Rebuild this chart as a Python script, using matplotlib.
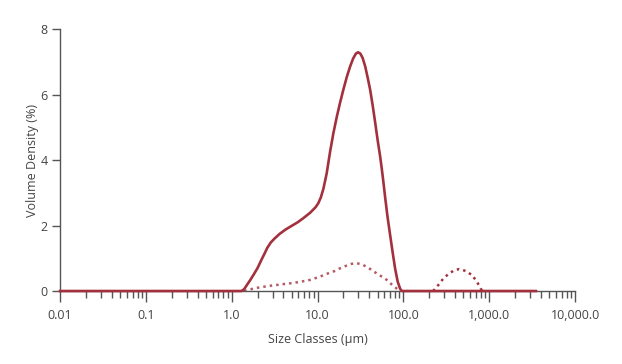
import matplotlib
matplotlib.use("Agg")
import matplotlib.pyplot as plt
from matplotlib.ticker import LogLocator, NullFormatter, FixedLocator
import numpy as np

plt.rcParams['font.family'] = ['Open Sans', 'DejaVu Sans']

# Solid curve (volume density %)
sizes_solid = [0.01, 1.3, 1.4, 1.5, 1.65, 1.8, 2.0, 2.2, 2.4, 2.6, 2.85, 3.15, 3.6, 4.2,
               5.0, 5.8, 6.8, 8.2, 9.5, 10.2, 10.9, 11.7, 12.8, 14.0, 15.3, 16.8, 18.3, 20.0,
               22.0, 24.0, 26.0, 28.0, 29.7, 31.5, 33.5, 35.9, 38.5, 41.0, 44.0, 46.9,
               50.0, 53.7, 56.0, 58.7, 61.4, 65.5, 70.2, 75.0, 80.2, 86.0, 92.0, 96.0,
               3500]
values_solid = [0, 0, 0.06, 0.18, 0.34, 0.5, 0.7, 0.93, 1.13, 1.32, 1.48, 1.6, 1.74, 1.87,
                1.99, 2.09, 2.22, 2.39, 2.56, 2.68, 2.85, 3.12, 3.6, 4.25, 4.82, 5.33, 5.75, 6.15,
                6.55, 6.86, 7.1, 7.25, 7.29, 7.25, 7.12, 6.86, 6.5, 6.15, 5.65, 5.15,
                4.63, 4.1, 3.74, 3.3, 2.85, 2.25, 1.7, 1.18, 0.68, 0.28, 0.06, 0,
                0]

# Dotted curve, first bump
sizes_dot1 = [1.4, 1.7, 2.0, 2.5, 3.0, 4.0, 5.0, 6.26, 8.2, 10.7, 13.0, 15.5, 18.5, 22.0,
              25.0, 28.6, 33.0, 38.0, 44.0, 50.0, 57.0, 64.0, 71.0, 78.0, 85.0, 93.0]
values_dot1 = [0, 0.06, 0.1, 0.14, 0.17, 0.21, 0.24, 0.28, 0.34, 0.44, 0.53, 0.6, 0.7, 0.78,
               0.83, 0.85, 0.81, 0.73, 0.62, 0.52, 0.43, 0.34, 0.23, 0.14, 0.06, 0]

# Dotted curve, second bump
sizes_dot2 = [222, 255, 290, 335, 390, 447, 520, 631, 720, 828]
values_dot2 = [0, 0.18, 0.37, 0.52, 0.63, 0.67, 0.62, 0.49, 0.28, 0]

xtick_vals = [0.01, 0.1, 1, 10, 100, 1000, 10000]
xtick_labels = ["0.01", "0.1", "1.0", "10.0", "100.0", "1,000.0", "10,000.0"]
ytick_vals = [0, 2, 4, 6, 8]

line_color = '#a3313d'
axis_color = '#555555'
text_color = '#444444'

fig = plt.figure(figsize=(6.22, 3.64), dpi=100)
ax = fig.add_axes([0.0965, 0.2005, 0.828, 0.7198])

ax.plot(sizes_dot1, values_dot1, color=line_color, lw=1.8, linestyle=(0, (1, 1.6)),
        zorder=2, alpha=0.8)
ax.plot(sizes_dot2, values_dot2, color=line_color, lw=1.8, linestyle=(0, (1, 1.6)),
        zorder=2)
ax.plot(sizes_solid, values_solid, color=line_color, lw=1.9, zorder=3,
        solid_joinstyle='round', clip_on=False)

ax.set_xscale('log')
ax.set_xlim(0.01, 10000)
ax.set_ylim(0, 8)

for s in ['top', 'right']:
    ax.spines[s].set_visible(False)
for s in ['left', 'bottom']:
    ax.spines[s].set_color(axis_color)
    ax.spines[s].set_linewidth(1.0)

ax.xaxis.set_major_locator(FixedLocator(xtick_vals))
ax.set_xticklabels(xtick_labels)
ax.xaxis.set_minor_locator(LogLocator(base=10, subs=np.arange(2, 10), numticks=20))
ax.xaxis.set_minor_formatter(NullFormatter())
ax.set_yticks(ytick_vals)
ax.set_yticklabels([str(v) for v in ytick_vals])

ax.tick_params(axis='x', which='major', length=8, width=1.0, color=axis_color,
               labelsize=9, labelcolor=text_color, pad=5)
ax.tick_params(axis='x', which='minor', length=5, width=1.0, color=axis_color)
ax.tick_params(axis='y', which='major', length=6, width=1.0, color=axis_color,
               labelsize=9, labelcolor=text_color, pad=3)

ax.set_xlabel('Size Classes (µm)', fontsize=9, color=text_color, labelpad=8)
ax.set_ylabel('Volume Density (%)', fontsize=9, color=text_color, labelpad=1)

fig.savefig('out.png', dpi=100)
